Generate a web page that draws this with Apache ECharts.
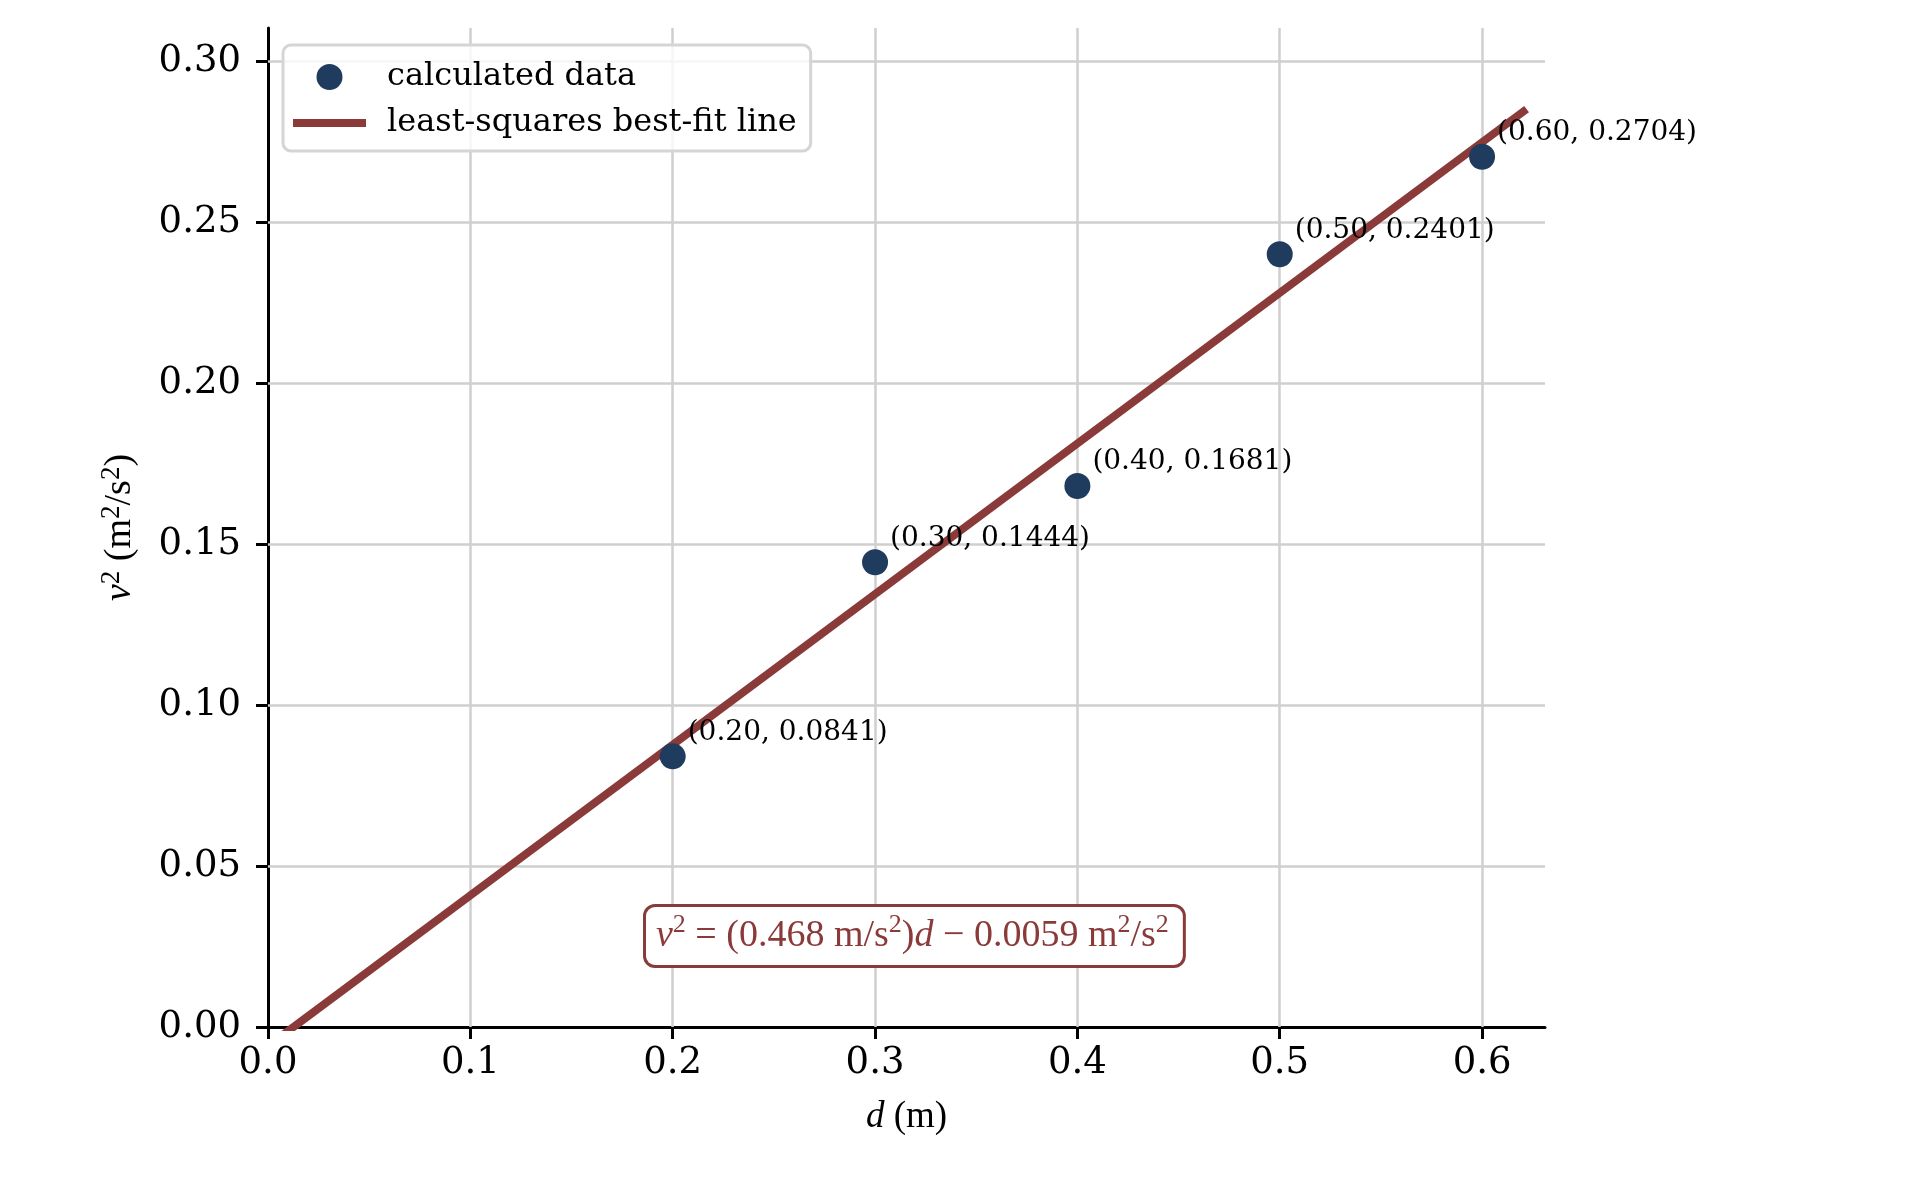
<!DOCTYPE html>
<html><head><meta charset="utf-8">
<script src="https://cdn.jsdelivr.net/npm/echarts@6/dist/echarts.min.js"></script>
<style>html,body{margin:0;padding:0;background:#fff}#c{width:1925px;height:1180px}</style>
</head><body><div id="c"></div>
<script>
// ---- data ----
const distances = [0.20, 0.30, 0.40, 0.50, 0.60];
const vSquared = [0.0841, 0.1444, 0.1681, 0.2401, 0.2704];
const fitX = [0.0, 0.622];
const fitY = [-0.0059, 0.2852];
const xTicks = [0.0, 0.1, 0.2, 0.3, 0.4, 0.5, 0.6];
const yTicks = [0.00, 0.05, 0.10, 0.15, 0.20, 0.25, 0.30];
const xMax = 0.6311;
const yMax = 0.3104;

const NAVY = '#1f3b5e';
const RED = '#8b3a3a';
const GRID = '#cfcfcf';
const SERIF = 'DejaVu Serif';
const TIMES = 'Liberation Serif';

const scatterData = distances.map((d, i) => [d, vSquared[i]]);
const fitData = fitX.map((x, i) => [x, fitY[i]]);

const gridLines = [];
xTicks.filter(v => v > 0).forEach(v => gridLines.push({ xAxis: v }));
yTicks.filter(v => v > 0).forEach(v => gridLines.push({ yAxis: v }));

const chart = echarts.init(document.getElementById('c'), null, { renderer: 'canvas' });

const axisCommon = {
  axisLine: { show: true, onZero: false, lineStyle: { color: '#000', width: 3 } },
  splitLine: { show: false }
};

chart.setOption({
  animation: false,
  backgroundColor: '#fff',
  grid: { left: 268, right: 380, top: 28, bottom: 153, containLabel: false },
  legend: {
    orient: 'vertical',
    left: 283, top: 45,
    padding: [16, 14, 12, 10],
    itemWidth: 73, itemHeight: 26, itemGap: 14,
    backgroundColor: 'rgba(255,255,255,0.8)',
    borderColor: '#d5d5d5', borderWidth: 3, borderRadius: 8,
    textStyle: { fontFamily: SERIF, fontSize: 32, color: '#000', padding: [0, 0, 0, 16] },
    data: [
      { name: 'calculated data', icon: 'circle' },
      { name: 'least-squares best-fit line', icon: 'path://M0,0H73V8H0Z', itemStyle: { color: RED } }
    ]
  },
  xAxis: Object.assign({}, axisCommon, {
    type: 'value', min: 0, max: xMax, interval: 0.1,
    name: '{i|d} (m)', nameLocation: 'middle', nameGap: 72,
    nameTextStyle: { fontFamily: TIMES, fontSize: 37, color: '#000',
      rich: { i: { fontFamily: TIMES, fontStyle: 'italic', fontSize: 37, color: '#000' } } },
    axisTick: { show: true, inside: false, length: 12, lineStyle: { color: '#000', width: 3 }, customValues: xTicks },
    axisLabel: { customValues: xTicks, formatter: v => v.toFixed(1), fontFamily: SERIF, fontSize: 37, color: '#000', margin: 18 }
  }),
  yAxis: Object.assign({}, axisCommon, {
    type: 'value', min: 0, max: yMax, interval: 0.05,
    name: '{i|v}{s|2} (m{s|2}/s{s|2})', nameLocation: 'middle', nameGap: 126, nameRotate: 90,
    nameTextStyle: { fontFamily: TIMES, fontSize: 38, color: '#000', lineHeight: 44,
      rich: {
        i: { fontFamily: TIMES, fontStyle: 'italic', fontSize: 38, color: '#000', lineHeight: 44 },
        s: { fontFamily: TIMES, fontSize: 27, color: '#000', verticalAlign: 'top', lineHeight: 44 }
      } },
    axisTick: { show: true, inside: false, length: 12, lineStyle: { color: '#000', width: 3 }, customValues: yTicks },
    axisLabel: { customValues: yTicks, formatter: v => v.toFixed(2), fontFamily: SERIF, fontSize: 37, color: '#000', margin: 27 }
  }),
  series: [
    {
      name: 'least-squares best-fit line',
      type: 'line',
      data: fitData,
      symbol: 'none',
      clip: true,
      z: 2,
      lineStyle: { color: RED, width: 8 },
      itemStyle: { color: RED },
      markLine: {
        silent: true,
        symbol: ['none', 'none'],
        label: { show: false },
        lineStyle: { color: GRID, width: 2.5, type: 'solid' },
        emphasis: { disabled: true },
        data: gridLines,
        z: 1
      }
    },
    {
      name: 'calculated data',
      type: 'scatter',
      data: scatterData,
      symbol: 'circle',
      symbolSize: 26,
      z: 3,
      itemStyle: { color: NAVY, opacity: 1 },
      label: {
        show: true,
        position: [28, -11],
        align: 'left',
        verticalAlign: 'middle',
        fontFamily: SERIF, fontSize: 28, color: '#000',
        formatter: p => '(' + p.value[0].toFixed(2) + ', ' + p.value[1].toFixed(4) + ')'
      }
    }
  ],
  graphic: [
    {
      type: 'text',
      left: 643, top: 904,
      z: 10,
      style: {
        text: '{i|v}{s|2}{n| = (0.468 m/s}{s|2}{n|)}{i|d}{n| − 0.0059 m}{s|2}{n|/s}{s|2}',
        fill: RED,
        backgroundColor: '#fff',
        borderColor: RED, borderWidth: 3, borderRadius: 9,
        padding: [5, 14, 5, 10],
        rich: {
          i: { fontFamily: TIMES, fontStyle: 'italic', fontSize: 38, fill: RED, lineHeight: 48 },
          n: { fontFamily: TIMES, fontSize: 38, fill: RED, lineHeight: 48 },
          s: { fontFamily: TIMES, fontSize: 26, fill: RED, lineHeight: 48, verticalAlign: 'top' }
        }
      }
    }
  ]
});
</script></body></html>
